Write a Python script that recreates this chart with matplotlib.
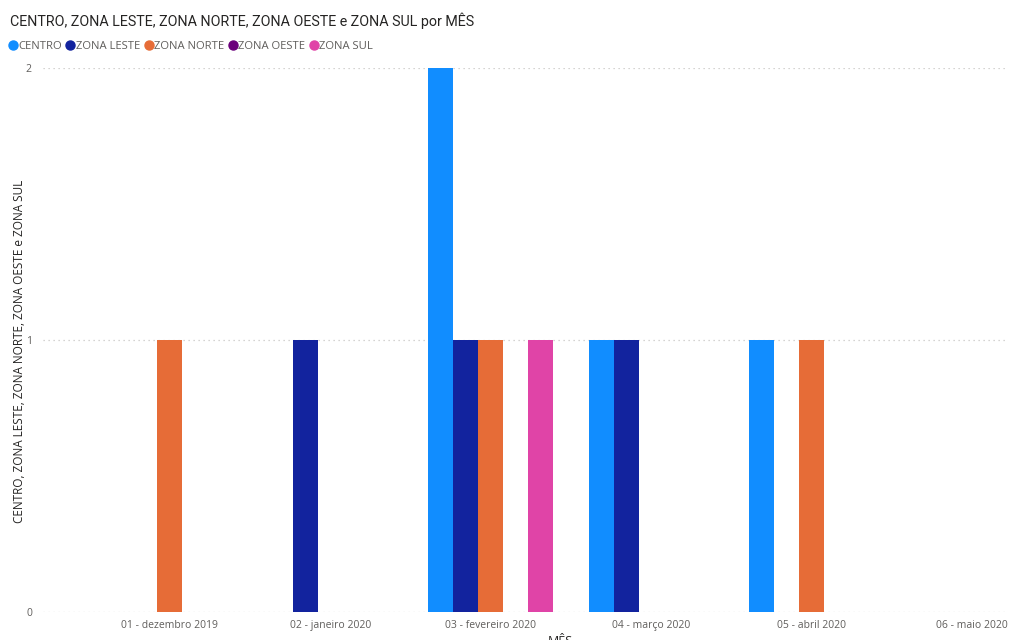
import matplotlib
matplotlib.use("Agg")
import matplotlib.pyplot as plt
from matplotlib.lines import Line2D
import numpy as np

# dados
meses = ["01 - dezembro 2019", "02 - janeiro 2020", "03 - fevereiro 2020",
         "04 - março 2020", "05 - abril 2020", "06 - maio 2020"]
series = ["CENTRO", "ZONA LESTE", "ZONA NORTE", "ZONA OESTE", "ZONA SUL"]
centro = [0, 0, 2, 1, 1, 0]
zona_leste = [0, 1, 1, 1, 0, 0]
zona_norte = [1, 0, 1, 0, 1, 0]
zona_oeste = [0, 0, 0, 0, 0, 0]
zona_sul = [0, 0, 1, 0, 0, 0]
valores = [centro, zona_leste, zona_norte, zona_oeste, zona_sul]
cores = ["#118DFF", "#12239E", "#E66C37", "#6B007B", "#E044A7"]

plt.rcParams["font.family"] = ["Open Sans", "DejaVu Sans"]

fig = plt.figure(figsize=(10.1, 6.4), dpi=100)
ax = fig.add_axes([0.0426, 0.04375, 0.9525, 0.85])

x = np.arange(len(meses))
w = 0.156
for i, (nome, vals) in enumerate(zip(series, valores)):
    ax.bar(x + (i - 2) * w, vals, width=w, color=cores[i], label=nome)

ax.set_xlim(-0.79, 5.204)
ax.set_ylim(0, 2)
ax.set_yticks([0, 1, 2])
ax.set_yticklabels(["0", "1", "2"])
ax.set_xticks(x)
ax.set_xticklabels(meses)
ax.tick_params(axis="both", length=0, colors="#605E5C", labelsize=7.5)
ax.tick_params(axis="x", pad=6)
ax.tick_params(axis="y", pad=8)
for s in ax.spines.values():
    s.set_visible(False)
ax.grid(axis="y", color="#C8C6C4", linestyle=(0, (1, 3)), linewidth=0.9)
ax.set_axisbelow(True)

ax.set_ylabel("CENTRO, ZONA LESTE, ZONA NORTE, ZONA OESTE e ZONA SUL",
              fontsize=8.5, color="#252423", labelpad=0, y=0.48)
fig.text(0.555, -0.002, "MÊS", fontsize=9, color="#252423", ha="center", va="center")

fig.text(0.01, 0.968, "CENTRO, ZONA LESTE, ZONA NORTE, ZONA OESTE e ZONA SUL por MÊS",
         fontsize=10.3, color="#252423", va="center", ha="left",
         family=["Roboto", "DejaVu Sans"], weight="normal")

handles = [Line2D([], [], marker="o", linestyle="", color=c, markersize=6.5) for c in cores]
fig.legend(handles, series, loc="center left", bbox_to_anchor=(0.003, 0.928), ncol=5,
           frameon=False, handletextpad=0.05, columnspacing=0.3, handlelength=0.9,
           fontsize=8.1, labelcolor="#605E5C", borderaxespad=0)

fig.savefig("out.png", dpi=100)
